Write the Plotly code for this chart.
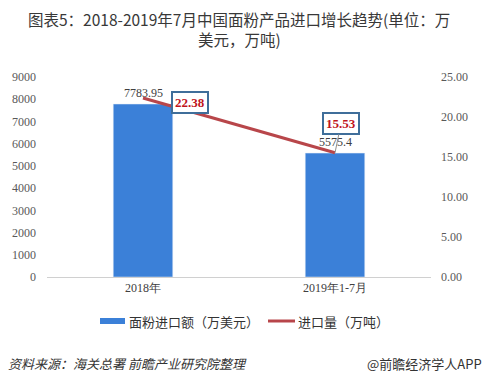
import plotly.graph_objects as go

categories = ["2018年", "2019年1-7月"]
import_value = [7783.95, 5575.4]
import_volume = [22.38, 15.53]
value_labels = ["7783.95", "5575.4"]
volume_labels = ["22.38", "15.53"]
series_names = ["面粉进口额（万美元）", "进口量（万吨）"]
left_ticks = [0, 1000, 2000, 3000, 4000, 5000, 6000, 7000, 8000, 9000]
right_ticks = [0, 5, 10, 15, 20, 25]

W, H = 487, 383
L, R, T, B = 47, 56, 77, 106
PW, PH = W - L - R, H - T - B

def py(p):
    return (H - B - p) / PH

def px(p):
    return (p - L) / PW

serif = "Liberation Serif, Times New Roman, serif"
sans = "Noto Sans CJK SC, sans-serif"
BLUE = "#3B80D8"
RED = "#B8464A"

fig = go.Figure()
fig.add_trace(go.Bar(
    x=categories, y=import_value, name=series_names[0],
    marker_color=BLUE, width=0.31, yaxis="y",
))
fig.add_trace(go.Scatter(
    x=categories, y=import_volume, name=series_names[1], mode="lines",
    line=dict(color=RED, width=3), yaxis="y2",
))

ann = []
for c, v, t in zip(categories, import_value, value_labels):
    ann.append(dict(x=c, y=v, xref="x", yref="y", text=t, showarrow=False,
                    yanchor="bottom", yshift=2,
                    font=dict(family=serif, size=12, color="#404040")))
box = dict(bordercolor="#3F6E9A", borderwidth=2, borderpad=2, bgcolor="white",
           font=dict(family=serif, size=13, color="#C0141C"))
ann.append(dict(x=categories[0], y=import_volume[0], xref="x", yref="y2",
                text="<b>%s</b>" % volume_labels[0], showarrow=False,
                xshift=47, yshift=-5, **box))
ann.append(dict(x=categories[1], y=import_volume[1], xref="x", yref="y2",
                text="<b>%s</b>" % volume_labels[1], showarrow=True, ax=6, ay=-29,
                arrowhead=0, arrowwidth=1, arrowcolor="#909090", standoff=0, **box))

# title
ann.append(dict(x=0.5, y=py(19.5), xref="paper", yref="paper", showarrow=False,
                xanchor="center", yanchor="middle",
                text="图表5：2018-2019年7月中国面粉产品进口增长趋势(单位：万",
                font=dict(family=sans, size=15.5, color="#383838")))
ann.append(dict(x=0.5, y=py(39), xref="paper", yref="paper", showarrow=False,
                xanchor="center", yanchor="middle", text="美元，万吨)",
                font=dict(family=sans, size=15.5, color="#383838")))
# custom legend
shapes = [
    dict(type="rect", xref="paper", yref="paper", x0=px(100), x1=px(125),
         y0=py(318), y1=py(324), fillcolor=BLUE, line=dict(width=0)),
    dict(type="line", xref="paper", yref="paper", x0=px(268), x1=px(295),
         y0=py(321), y1=py(321), line=dict(color=RED, width=3)),
]
ann.append(dict(x=px(127), y=py(321), xref="paper", yref="paper", showarrow=False,
                xanchor="left", yanchor="middle", text=series_names[0],
                font=dict(family=sans, size=13, color="#333333")))
ann.append(dict(x=px(296), y=py(321), xref="paper", yref="paper", showarrow=False,
                xanchor="left", yanchor="middle", text=series_names[1],
                font=dict(family=sans, size=13, color="#333333")))
# footer
ann.append(dict(x=px(6), y=py(363), xref="paper", yref="paper",
                showarrow=False, xanchor="left", yanchor="middle",
                text="<i>资料来源：海关总署 前瞻产业研究院整理</i>",
                font=dict(family=sans, size=13, color="#333333")))
ann.append(dict(x=px(484), y=py(363), xref="paper", yref="paper",
                showarrow=False, xanchor="right", yanchor="middle",
                text="@前瞻经济学人APP",
                font=dict(family=sans, size=13, color="#333333")))

fig.update_layout(
    width=W, height=H,
    margin=dict(l=L, r=R, t=T, b=B),
    paper_bgcolor="white", plot_bgcolor="white",
    showlegend=False,
    xaxis=dict(showgrid=False, showline=True, linecolor="#D0D0D0", linewidth=1,
               ticks="", tickfont=dict(family=serif, size=12, color="#404040")),
    yaxis=dict(range=[0, 9000], tickvals=left_ticks, showgrid=False, zeroline=False,
               showline=False, ticks="", ticklabelstandoff=10,
               tickfont=dict(family=serif, size=12, color="#595959")),
    yaxis2=dict(range=[0, 25], tickvals=right_ticks, tickformat=".2f", overlaying="y",
                side="right", showgrid=False, zeroline=False, showline=False, ticks="",
                ticklabelstandoff=9,
                tickfont=dict(family=serif, size=12, color="#595959")),
    annotations=ann,
    shapes=shapes,
)

fig.write_html("out.html", config={"displayModeBar": False},
               post_script="document.body.style.margin='0';document.body.style.padding='0';")
